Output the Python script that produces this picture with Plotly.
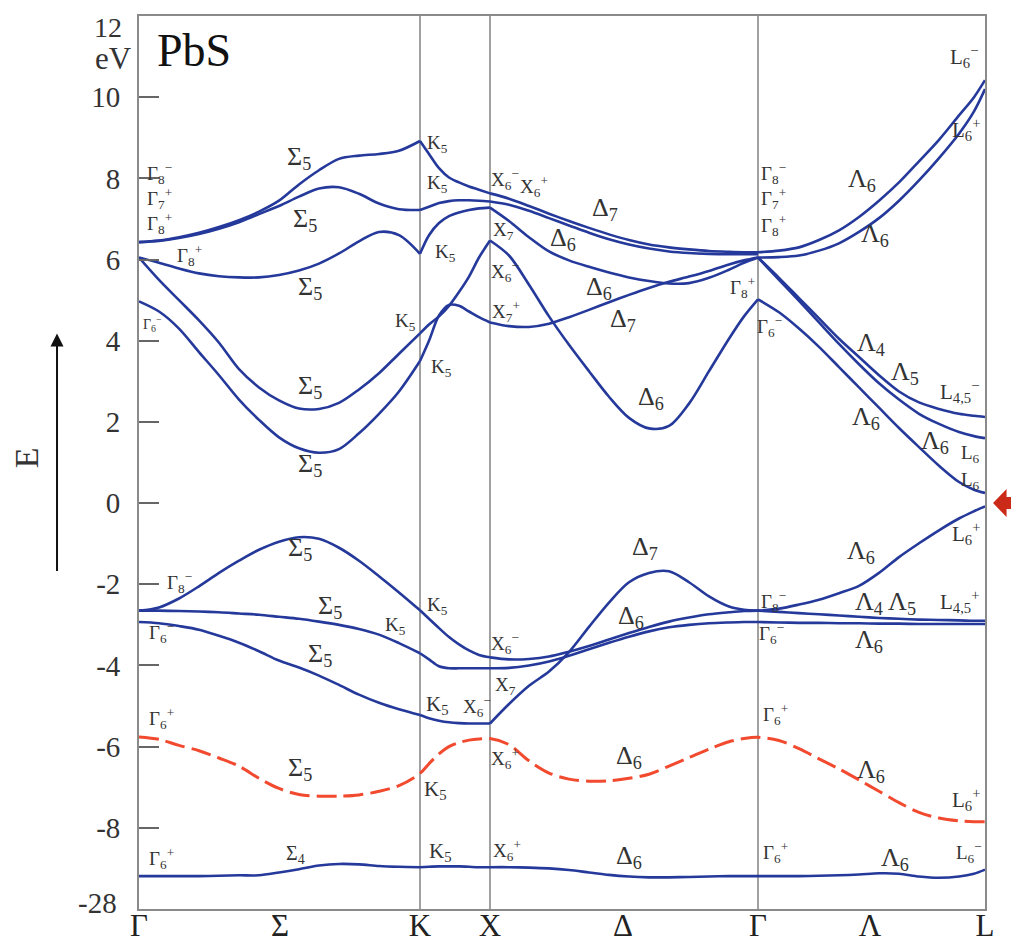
import plotly.graph_objects as go

# ---------------- path / axis definitions ----------------
SYM_NAMES = ["Γ", "Σ", "K", "X", "Δ", "Γ", "Λ", "L"]
SYM_POS = [0.0, 1.41, 2.81, 3.51, 4.84, 6.19, 7.31, 8.46]
VLINES = [2.81, 3.51, 6.19]
Y_TICKS = [10, 8, 6, 4, 2, 0, -2, -4, -6, -8]
Y_TICK_TEXT = ["10", "8", "6", "4", "2", "0", "-2", "-4", "-6", "-8"]
CORE_SHIFT = 18.15          # broken axis: the -28 eV level is drawn at -9.85
Y_RANGE = [-10, 12]

# k grids of the four path sections
k_GK = [0.0, 0.2, 0.4, 0.6, 0.8, 1.0, 1.2, 1.4, 1.6, 1.8, 2.0, 2.2, 2.4, 2.6, 2.81]
k_KX = [2.81, 2.9, 3.0, 3.1, 3.2, 3.3, 3.4, 3.51]
k_XG = [3.51, 3.7, 3.9, 4.1, 4.3, 4.5, 4.7, 4.9, 5.1, 5.3, 5.5, 5.7, 5.9, 6.05, 6.19]
k_GL = [6.19, 6.4, 6.6, 6.8, 7.0, 7.2, 7.4, 7.6, 7.8, 8.0, 8.2, 8.35, 8.46]

# ---------------- Γ -> K (Σ) ----------------
cb_a_GK = [6.43, 6.47, 6.55, 6.66, 6.8, 6.97, 7.18, 7.45, 7.85, 8.2, 8.48, 8.56, 8.6, 8.68, 8.92]
cb_b_GK = [6.43, 6.46, 6.53, 6.63, 6.76, 6.92, 7.12, 7.32, 7.55, 7.75, 7.78, 7.62, 7.38, 7.24, 7.22]
cb_c_GK = [6.05, 5.92, 5.78, 5.66, 5.59, 5.56, 5.56, 5.62, 5.73, 5.9, 6.15, 6.45, 6.68, 6.6, 6.14]
cb_u_GK = [6.05, 5.5, 5.0, 4.5, 3.95, 3.3, 2.85, 2.53, 2.33, 2.32, 2.47, 2.8, 3.2, 3.68, 4.18]
cb_w_GK = [4.97, 4.72, 4.3, 3.72, 3.15, 2.55, 2.05, 1.62, 1.35, 1.24, 1.33, 1.72, 2.2, 2.75, 3.5]
vb_1_GK = [-2.65, -2.57, -2.35, -2.05, -1.72, -1.42, -1.15, -0.95, -0.84, -0.88, -1.1, -1.42, -1.8, -2.2, -2.64]
vb_2_GK = [-2.65, -2.65, -2.66, -2.67, -2.69, -2.72, -2.75, -2.8, -2.85, -2.92, -3.0, -3.1, -3.24, -3.45, -3.7]
vb_3_GK = [-2.93, -2.96, -3.03, -3.12, -3.27, -3.44, -3.65, -3.88, -4.05, -4.25, -4.48, -4.72, -4.92, -5.08, -5.22]
sc_GK = [-5.76, -5.82, -5.97, -6.1, -6.28, -6.48, -6.78, -7.03, -7.18, -7.22, -7.22, -7.19, -7.1, -6.96, -6.66]
core_GK = [-27.34, -27.34, -27.34, -27.34, -27.33, -27.32, -27.32, -27.25, -27.17, -27.08, -27.04, -27.05, -27.09, -27.11, -27.12]

# ---------------- K -> X ----------------
cb_a_KX = [8.92, 8.6, 8.25, 8.02, 7.9, 7.8, 7.72, 7.63]
cb_b_KX = [7.22, 7.3, 7.39, 7.44, 7.46, 7.46, 7.45, 7.43]
cb_c_KX = [6.14, 6.6, 6.9, 7.07, 7.16, 7.22, 7.26, 7.28]
cb_u_KX = [4.18, 4.4, 4.6, 4.86, 5.2, 5.58, 6.05, 6.47]
cb_w_KX = [3.5, 4.0, 4.62, 4.88, 4.86, 4.72, 4.58, 4.45]
vb_1_KX = [-2.64, -2.85, -3.08, -3.3, -3.48, -3.63, -3.74, -3.8]
vb_2_KX = [-3.7, -3.85, -4.02, -4.07, -4.07, -4.07, -4.07, -4.07]
vb_3_KX = [-5.22, -5.3, -5.36, -5.4, -5.42, -5.43, -5.43, -5.43]
sc_KX = [-6.66, -6.42, -6.18, -6.0, -5.9, -5.84, -5.81, -5.8]
core_KX = [-27.12, -27.11, -27.1, -27.1, -27.1, -27.11, -27.12, -27.12]

# ---------------- X -> Γ (Δ) ----------------
cb_a_XG = [7.63, 7.5, 7.32, 7.13, 6.95, 6.78, 6.62, 6.48, 6.37, 6.3, 6.25, 6.21, 6.19, 6.18, 6.18]
cb_b_XG = [7.43, 7.35, 7.2, 7.02, 6.84, 6.66, 6.5, 6.37, 6.27, 6.2, 6.16, 6.14, 6.13, 6.13, 6.13]
cb_c_XG = [7.28, 6.95, 6.55, 6.2, 5.98, 5.82, 5.68, 5.56, 5.47, 5.41, 5.42, 5.55, 5.75, 5.92, 6.05]
cb_u_XG = [6.47, 6.1, 5.38, 4.6, 3.9, 3.25, 2.62, 2.1, 1.84, 1.9, 2.45, 3.25, 4.05, 4.6, 5.02]
cb_w_XG = [4.45, 4.36, 4.34, 4.42, 4.58, 4.76, 4.95, 5.13, 5.3, 5.45, 5.58, 5.72, 5.88, 5.98, 6.05]
vb_1_XG = [-3.8, -3.85, -3.84, -3.78, -3.66, -3.52, -3.36, -3.2, -3.05, -2.92, -2.82, -2.74, -2.69, -2.66, -2.65]
vb_2_XG = [-4.07, -4.06, -4.0, -3.9, -3.76, -3.6, -3.44, -3.29, -3.16, -3.06, -3.0, -2.96, -2.94, -2.93, -2.93]
vb_3_XG = [-5.43, -4.95, -4.5, -4.15, -3.67, -3.05, -2.45, -1.95, -1.72, -1.68, -1.95, -2.3, -2.55, -2.63, -2.65]
sc_XG = [-5.8, -5.95, -6.35, -6.65, -6.8, -6.85, -6.84, -6.78, -6.68, -6.48, -6.27, -6.06, -5.88, -5.8, -5.77]
core_XG = [-27.12, -27.12, -27.13, -27.15, -27.19, -27.25, -27.31, -27.35, -27.37, -27.37, -27.36, -27.35, -27.34, -27.34, -27.34]

# ---------------- Γ -> L (Λ) ----------------
cb_lu_GL = [6.18, 6.22, 6.3, 6.48, 6.72, 7.05, 7.45, 7.9, 8.42, 8.95, 9.55, 10.0, 10.42]
cb_ll_GL = [6.05, 6.06, 6.1, 6.22, 6.4, 6.68, 7.02, 7.45, 7.95, 8.5, 9.1, 9.65, 10.2]
cb_l45_GL = [6.05, 5.55, 5.05, 4.55, 4.05, 3.6, 3.15, 2.75, 2.48, 2.32, 2.2, 2.15, 2.12]
cb_l6_GL = [6.05, 5.5, 4.98, 4.45, 3.92, 3.42, 2.95, 2.55, 2.2, 1.95, 1.75, 1.65, 1.6]
cb_l6b_GL = [5.02, 4.7, 4.3, 3.85, 3.35, 2.85, 2.35, 1.85, 1.38, 0.92, 0.52, 0.33, 0.25]
vb_lv_GL = [-2.65, -2.6, -2.5, -2.38, -2.22, -2.04, -1.72, -1.33, -0.99, -0.67, -0.38, -0.2, -0.08]
vb_c_GL = [-2.65, -2.68, -2.71, -2.74, -2.77, -2.8, -2.83, -2.85, -2.87, -2.88, -2.89, -2.9, -2.9]
vb_d_GL = [-2.93, -2.94, -2.95, -2.95, -2.96, -2.96, -2.97, -2.97, -2.98, -2.98, -2.98, -2.98, -2.98]
sc_GL = [-5.77, -5.85, -6.05, -6.3, -6.55, -6.82, -7.1, -7.38, -7.62, -7.76, -7.83, -7.85, -7.85]
core_GL = [-27.34, -27.34, -27.34, -27.33, -27.32, -27.3, -27.27, -27.28, -27.35, -27.38, -27.35, -27.28, -27.18]

# ---------------- styling ----------------
BLUE = "#25399b"
RED = "#f24a2f"
GREY = "#8a8a8a"
SERIF = "Liberation Serif, Times New Roman, serif"
TXT = "#333333"

fig = go.Figure()


def add_band(k, e, color=BLUE, dash="solid", width=2.6):
    fig.add_trace(go.Scatter(
        x=k, y=e, mode="lines", hoverinfo="skip", showlegend=False,
        line=dict(color=color, width=width, dash=dash, shape="spline", smoothing=0.9)))


solid_sections = [
    (k_GK, [cb_a_GK, cb_b_GK, cb_c_GK, cb_u_GK, cb_w_GK, vb_1_GK, vb_2_GK, vb_3_GK]),
    (k_KX, [cb_a_KX, cb_b_KX, cb_c_KX, cb_u_KX, cb_w_KX, vb_1_KX, vb_2_KX, vb_3_KX]),
    (k_XG, [cb_a_XG, cb_b_XG, cb_c_XG, cb_u_XG, cb_w_XG, vb_1_XG, vb_2_XG, vb_3_XG]),
    (k_GL, [cb_lu_GL, cb_ll_GL, cb_l45_GL, cb_l6_GL, cb_l6b_GL, vb_lv_GL, vb_c_GL, vb_d_GL]),
]
for kk, bands in solid_sections:
    for e in bands:
        add_band(kk, e)

for kk, core in [(k_GK, core_GK), (k_KX, core_KX), (k_XG, core_XG), (k_GL, core_GL)]:
    add_band(kk, [v + CORE_SHIFT for v in core])

sc_k = k_GK + k_KX[1:] + k_XG[1:] + k_GL[1:]
sc_e = sc_GK + sc_KX[1:] + sc_XG[1:] + sc_GL[1:]
add_band(sc_k, sc_e, color=RED, dash="20px,7px", width=3)

# ---------------- labels ----------------
G8m = "Γ<sub>8</sub><sup>−</sup>"
G7p = "Γ<sub>7</sub><sup>+</sup>"
G8p = "Γ<sub>8</sub><sup>+</sup>"
G6m = "Γ<sub>6</sub><sup>−</sup>"
G6p = "Γ<sub>6</sub><sup>+</sup>"
S5 = "Σ<sub>5</sub>"
K5 = "K<sub>5</sub>"
D6 = "Δ<sub>6</sub>"
D7 = "Δ<sub>7</sub>"
L6 = "Λ<sub>6</sub>"
SM, BG, LL = 19, 26, 21   # font sizes: point labels, line labels, L labels

labels = [
    # Γ (left)
    (G8m, 0.2, 8.12, SM), (G7p, 0.2, 7.5, SM), (G8p, 0.2, 6.9, SM), (G8p, 0.5, 6.1, SM),
    (G6m, 0.13, 4.4, 14), (G8m, 0.4, -1.95, SM), (G6m, 0.22, -3.2, SM), (G6p, 0.22, -5.3, SM),
    (G6p, 0.22, -8.75, SM),
    # Σ
    (S5, 1.6, 8.5, BG), (S5, 1.66, 6.97, BG), (S5, 1.71, 5.3, BG), (S5, 1.71, 2.85, BG),
    (S5, 1.71, 0.95, BG), (S5, 1.61, -1.12, BG), (S5, 1.91, -2.55, BG), (S5, 1.81, -3.75, BG),
    (S5, 1.61, -6.55, BG), ("Σ<sub>4</sub>", 1.56, -8.66, 20),
    # K
    (K5, 2.98, 8.85, SM), (K5, 2.98, 7.86, SM), (K5, 3.06, 6.16, SM), (K5, 2.66, 4.45, SM),
    (K5, 3.02, 3.32, SM), (K5, 2.98, -2.53, SM), (K5, 2.56, -3.02, SM),
    (K5, 2.98, -4.97, 21), ("X<sub>6</sub><sup>−</sup>", 3.38, -5.02, SM),
    (K5, 2.96, -7.08, 21), (K5, 3.01, -8.6, 21),
    # X
    ("X<sub>6</sub><sup>−</sup>", 3.66, 7.98, SM), ("X<sub>6</sub><sup>+</sup>", 3.95, 7.8, SM),
    ("X<sub>7</sub>", 3.64, 6.7, SM), ("X<sub>6</sub><sup>−</sup>", 3.66, 5.7, SM),
    ("X<sub>7</sub><sup>+</sup>", 3.67, 4.72, SM), ("X<sub>6</sub><sup>−</sup>", 3.66, -3.47, SM),
    ("X<sub>7</sub>", 3.66, -4.5, SM), ("X<sub>6</sub><sup>+</sup>", 3.66, -6.3, SM),
    ("X<sub>6</sub><sup>+</sup>", 3.68, -8.55, SM),
    # Δ
    (D7, 4.66, 7.25, BG), (D6, 4.24, 6.5, BG), (D6, 4.6, 5.3, BG), (D7, 4.84, 4.5, BG),
    (D6, 5.12, 2.6, BG), (D7, 5.06, -1.1, BG), (D6, 4.92, -2.8, BG), (D6, 4.9, -6.25, BG),
    (D6, 4.9, -8.72, BG),
    # Γ (middle)
    (G8m, 6.34, 8.12, SM), (G7p, 6.34, 7.5, SM), (G8p, 6.34, 6.85, SM), (G8p, 6.03, 5.3, SM),
    (G6m, 6.3, 4.35, SM), (G8m, 6.34, -2.42, SM), (G6m, 6.32, -3.22, SM), (G6p, 6.36, -5.2, SM),
    (G6p, 6.36, -8.62, SM),
    # Λ
    (L6, 7.23, 7.95, BG), (L6, 7.36, 6.6, BG), ("Λ<sub>4</sub>", 7.32, 3.93, BG),
    ("Λ<sub>5</sub>", 7.66, 3.2, BG), (L6, 7.27, 2.1, BG), (L6, 7.96, 1.5, BG),
    (L6, 7.22, -1.2, BG), ("Λ<sub>4</sub> Λ<sub>5</sub>", 7.46, -2.45, BG), (L6, 7.3, -3.4, BG),
    (L6, 7.32, -6.6, BG), (L6, 7.56, -8.76, BG),
    # L
    ("L<sub>6</sub><sup>−</sup>", 8.25, 11.0, LL), ("L<sub>6</sub><sup>+</sup>", 8.27, 9.2, LL),
    ("L<sub>4,5</sub><sup>−</sup>", 8.2, 2.75, LL), ("L<sub>6</sub>", 8.31, 1.2, SM),
    ("L<sub>6</sub>", 8.31, 0.55, SM), ("L<sub>6</sub><sup>+</sup>", 8.27, -0.75, LL),
    ("L<sub>4,5</sub><sup>+</sup>", 8.2, -2.42, LL), ("L<sub>6</sub><sup>+</sup>", 8.27, -7.3, LL),
    ("L<sub>6</sub><sup>−</sup>", 8.3, -8.62, SM),
]

annotations = [
    dict(x=x, y=y, xref="x", yref="y", text=t, showarrow=False, xanchor="center",
         yanchor="middle", font=dict(family=SERIF, size=s, color=TXT))
    for (t, x, y, s) in labels
]

annotations += [
    dict(x=0.55, y=11.15, xref="x", yref="y", text="PbS", showarrow=False,
         xanchor="center", yanchor="middle", font=dict(family=SERIF, size=46, color="#111")),
    # top value of the energy scale (kept inside the page)
    dict(x=-0.037, y=11.72, xref="paper", yref="y", text="12", showarrow=False,
         xanchor="center", yanchor="middle", font=dict(family=SERIF, size=28, color=TXT)),
    dict(x=-0.0307, y=10.95, xref="paper", yref="y", text="eV", showarrow=False,
         xanchor="center", yanchor="middle", font=dict(family=SERIF, size=31, color=TXT)),
    dict(x=-0.049, y=-28 + CORE_SHIFT, xref="paper", yref="y", text="-28", showarrow=False,
         xanchor="center", yanchor="middle", font=dict(family=SERIF, size=29, color=TXT)),
    dict(x=-0.1336, y=1.13, xref="paper", yref="y", text="E", textangle=-90, showarrow=False,
         xanchor="center", yanchor="middle", font=dict(family=SERIF, size=34, color=TXT)),
    # vertical energy arrow
    dict(x=-0.0969, y=4.18, xref="paper", yref="y", text="", showarrow=True,
         ax=0, ay=239, arrowhead=2, arrowsize=1.3, arrowwidth=2, arrowcolor="#111"),
]

# red Fermi-level marker (block arrow just right of the frame, pointing at E = 0)
y0p = (0 - Y_RANGE[0]) / (Y_RANGE[1] - Y_RANGE[0])
hh, sh = 14 / 893, 6 / 893       # half heights (paper units) of head and shaft
xt, xb, xe = 1.0095, 1.0255, 1.05
arrow_path = (f"M {xt},{y0p} L {xb},{y0p + hh} L {xb},{y0p + sh} L {xe},{y0p + sh} "
              f"L {xe},{y0p - sh} L {xb},{y0p - sh} L {xb},{y0p - hh} Z")

shapes = [
    dict(type="line", x0=v, x1=v, y0=0, y1=1, xref="x", yref="paper",
         line=dict(color=GREY, width=1.6), layer="below")
    for v in VLINES
]
shapes.append(dict(type="path", path=arrow_path, xref="paper", yref="paper",
                   fillcolor="#cc2a18", line=dict(width=0)))

fig.update_layout(
    width=1011, height=936,
    margin=dict(l=131, r=34, t=8, b=35, autoexpand=False),
    paper_bgcolor="white", plot_bgcolor="white",
    showlegend=False,
    annotations=annotations,
    shapes=shapes,
    xaxis=dict(range=[0, 8.46], showline=True, mirror=True, linecolor=GREY, linewidth=1.8,
               tickvals=SYM_POS, ticktext=SYM_NAMES, ticks="", showgrid=False, zeroline=False,
               automargin=False, ticklabelstandoff=-12, ticklabeloverflow="allow",
               tickfont=dict(family=SERIF, size=31, color="#222")),
    yaxis=dict(range=Y_RANGE, showline=True, mirror=True, linecolor=GREY, linewidth=1.8,
               tickvals=Y_TICKS, ticktext=Y_TICK_TEXT, ticks="inside", ticklen=20,
               tickwidth=1.5, tickcolor="#666", showgrid=False, zeroline=False,
               automargin=False, ticklabelstandoff=11, ticklabeloverflow="allow",
               tickfont=dict(family=SERIF, size=29, color=TXT)),
)

fig.write_html("out.html")
